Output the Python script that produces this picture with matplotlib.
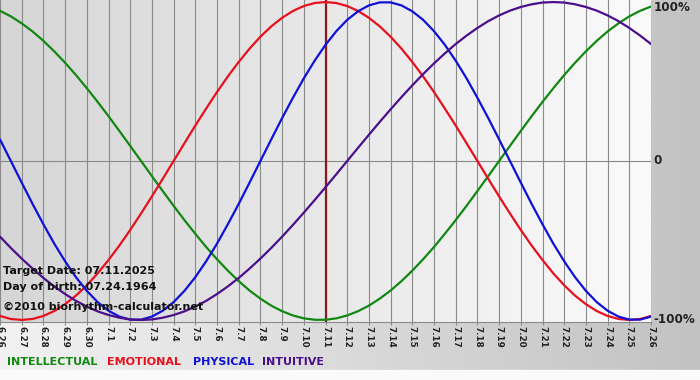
import numpy as np
import matplotlib
matplotlib.use("Agg")
import matplotlib.pyplot as plt
from matplotlib.colors import LinearSegmentedColormap

# ====================== date ======================
days = ["6.26", "6.27", "6.28", "6.29", "6.30",
        "7.1", "7.2", "7.3", "7.4", "7.5", "7.6", "7.7", "7.8", "7.9", "7.10",
        "7.11", "7.12", "7.13", "7.14", "7.15", "7.16", "7.17", "7.18", "7.19",
        "7.20", "7.21", "7.22", "7.23", "7.24", "7.25", "7.26"]

# valori la fiecare jumatate de zi (6.26 ... 7.26)
intellectual = [0.945, 0.910, 0.866, 0.815, 0.756, 0.690, 0.618, 0.541, 0.458, 0.372,
                0.282, 0.189, 0.095, 0.0, -0.095, -0.189, -0.282, -0.372, -0.458, -0.541,
                -0.618, -0.690, -0.756, -0.815, -0.866, -0.910, -0.945, -0.972, -0.990, -0.999,
                -0.999, -0.990, -0.972, -0.945, -0.910, -0.866, -0.815, -0.756, -0.690, -0.618,
                -0.541, -0.458, -0.372, -0.282, -0.189, -0.095, 0.0, 0.095, 0.189, 0.282,
                0.372, 0.458, 0.541, 0.618, 0.690, 0.756, 0.815, 0.866, 0.910, 0.945, 0.972]

emotional = [-0.975, -0.994, -1.0, -0.994, -0.975, -0.944, -0.901, -0.847, -0.782, -0.707,
             -0.623, -0.532, -0.434, -0.330, -0.223, -0.112, 0.0, 0.112, 0.223, 0.330,
             0.434, 0.532, 0.623, 0.707, 0.782, 0.847, 0.901, 0.944, 0.975, 0.994,
             1.0, 0.994, 0.975, 0.944, 0.901, 0.847, 0.782, 0.707, 0.623, 0.532,
             0.434, 0.330, 0.223, 0.112, 0.0, -0.112, -0.223, -0.330, -0.434, -0.532,
             -0.623, -0.707, -0.782, -0.847, -0.901, -0.944, -0.975, -0.994, -1.0, -0.994, -0.975]

physical = [0.136, 0.0, -0.136, -0.270, -0.398, -0.520, -0.631, -0.731, -0.817, -0.888,
            -0.942, -0.979, -0.998, -0.998, -0.979, -0.942, -0.888, -0.817, -0.731, -0.631,
            -0.520, -0.398, -0.270, -0.136, 0.0, 0.136, 0.270, 0.398, 0.520, 0.631,
            0.731, 0.817, 0.888, 0.942, 0.979, 0.998, 0.998, 0.979, 0.942, 0.888,
            0.817, 0.731, 0.631, 0.520, 0.398, 0.270, 0.136, 0.0, -0.136, -0.270,
            -0.398, -0.520, -0.631, -0.731, -0.817, -0.888, -0.942, -0.979, -0.998, -0.998, -0.979]

intuitive = [-0.476, -0.547, -0.614, -0.677, -0.736, -0.789, -0.837, -0.880, -0.916, -0.946,
             -0.969, -0.986, -0.997, -1.0, -0.997, -0.986, -0.969, -0.946, -0.916, -0.880,
             -0.837, -0.789, -0.736, -0.677, -0.614, -0.547, -0.476, -0.402, -0.325, -0.246,
             -0.165, -0.083, 0.0, 0.083, 0.165, 0.246, 0.325, 0.402, 0.476, 0.547,
             0.614, 0.677, 0.736, 0.789, 0.837, 0.880, 0.916, 0.946, 0.969, 0.986,
             0.997, 1.0, 0.997, 0.986, 0.969, 0.946, 0.916, 0.880, 0.837, 0.789, 0.736]

target_day = "7.11"

series = [("INTELLECTUAL", intellectual, "#118811"),
          ("EMOTIONAL", emotional, "#e8101c"),
          ("PHYSICAL", physical, "#1010d8"),
          ("INTUITIVE", intuitive, "#4b0f8c")]

# ====================== figura ======================
W, H = 700, 380
fig = plt.figure(figsize=(W / 100, H / 100), dpi=100)

# fundal figura (gradient gri)
bg = fig.add_axes([0, 0, 1, 1], zorder=-10)
bg_cmap = LinearSegmentedColormap.from_list("bg", ["#f2f2f2", "#c2c2c2"])
bg.imshow(np.linspace(0, 1, 256)[None, :], aspect="auto", cmap=bg_cmap,
          extent=[0, 1, 0, 1])
bg.axhspan(0, 10 / H, color="#fafafa")
bg.set_xlim(0, 1)
bg.set_ylim(0, 1)
bg.axis("off")

# zona graficului: x 0..651 px, y 0..322 px
ax = fig.add_axes([0, (H - 322) / H, 651 / W, 322 / H])
n = len(days)
x_day = np.arange(n)
x_half = np.arange(len(physical)) * 0.5
ylo, yhi = -1.013, 1.013

plot_cmap = LinearSegmentedColormap.from_list("pl", ["#d6d6d6", "#fbfbfb"])
ax.imshow(np.linspace(0, 1, 256)[None, :], aspect="auto", cmap=plot_cmap,
          extent=[0, n - 1, ylo, yhi], zorder=0)

for xi in x_day:
    ax.axvline(xi, color="#8a8a8a", linewidth=0.8, zorder=1)
ax.axhline(0, color="#8a8a8a", linewidth=0.8, zorder=1)

ax.axvline(days.index(target_day), color="#8b1a1a", linewidth=1.6, zorder=3)

for name, vals, col in series:
    ax.plot(x_half, vals, color=col, linewidth=1.6, zorder=4, solid_capstyle="round")

ax.set_xlim(0, n - 1)
ax.set_ylim(ylo, yhi)
ax.set_yticks([])
ax.set_xticks(x_day)
ax.set_xticklabels(days, rotation=270, fontsize=6.3, fontweight="bold", color="#222222")
ax.tick_params(axis="x", length=2, color="#8a8a8a", pad=1)
for side in ["top", "left", "right"]:
    ax.spines[side].set_visible(False)
ax.spines["bottom"].set_color("#8a8a8a")

# etichete procente la dreapta
for yv, txt in [(0.965, "100%"), (0, "0"), (-1, "-100%")]:
    ax.text(n - 1 + 0.12, yv, txt, fontsize=8.6, fontweight="bold", color="#222222",
            ha="left", va="center", clip_on=False)

# texte info
info = [(271, "Target Date: 07.11.2025"), (287, "Day of birth: 07.24.1964"),
        (307, "\u00a92010 biorhythm-calculator.net")]
for ypx, txt in info:
    fig.text(3 / W, 1 - ypx / H, txt, fontsize=8.0, fontweight="bold",
             color="#111111", ha="left", va="center", zorder=10)

# legenda jos
xpos = [7, 107, 193, 262]
for (name, vals, col), xp in zip(series, xpos):
    fig.text(xp / W, 1 - 362 / H, name, fontsize=8.0, fontweight="bold",
             color=col, ha="left", va="center")

plt.savefig("out.png", dpi=100)
